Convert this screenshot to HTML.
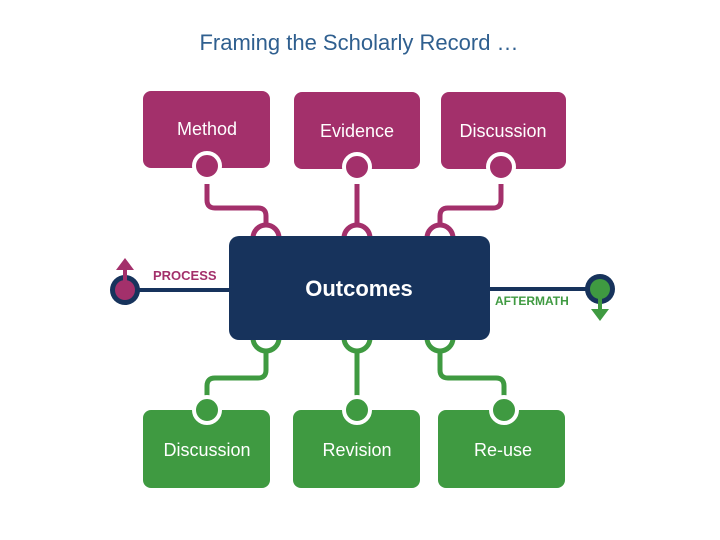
<!DOCTYPE html>
<html><head><meta charset="utf-8"><style>
html,body{margin:0;padding:0;background:#fff;width:720px;height:540px;overflow:hidden}
</style></head><body>
<svg width="720" height="540" viewBox="0 0 720 540" xmlns="http://www.w3.org/2000/svg" font-family="Liberation Sans, sans-serif">
<text x="359" y="50" text-anchor="middle" font-size="22" fill="#2f5f8f">Framing the Scholarly Record …</text>
<g fill="#a3306b">
<rect x="143" y="91" width="127" height="77" rx="8"/>
<rect x="294" y="92" width="126" height="77" rx="8"/>
<rect x="441" y="92" width="125" height="77" rx="8"/>
</g>
<g fill="#a3306b" stroke="#fff" stroke-width="4">
<circle cx="207" cy="166" r="13"/><circle cx="357" cy="167" r="13"/><circle cx="501" cy="167" r="13"/>
</g>
<g fill="none" stroke="#a3306b" stroke-width="5">
<path d="M207 184 V200 Q207 208 215 208 H258 Q266 208 266 216 V224"/>
<path d="M357 184 V224"/>
<path d="M501 184 V200 Q501 208 493 208 H448 Q440 208 440 216 V224"/>
<path d="M253 238 A13 13 0 0 1 279 238"/>
<path d="M344 238 A13 13 0 0 1 370 238"/>
<path d="M427 238 A13 13 0 0 1 453 238"/>
</g>
<g fill="#fff" font-size="18" text-anchor="middle">
<text x="207" y="135">Method</text><text x="357" y="137">Evidence</text><text x="503" y="137">Discussion</text>
</g>
<g fill="none" stroke="#3f9a41" stroke-width="5">
<path d="M253 338 A13 13 0 0 0 279 338"/>
<path d="M344 338 A13 13 0 0 0 370 338"/>
<path d="M427 338 A13 13 0 0 0 453 338"/>
<path d="M266 350 V370 Q266 378 258 378 H215 Q207 378 207 386 V398"/>
<path d="M357 350 V398"/>
<path d="M440 350 V370 Q440 378 448 378 H496 Q504 378 504 386 V398"/>
</g>
<line x1="125" y1="290" x2="232" y2="290" stroke="#17335c" stroke-width="4"/>
<line x1="488" y1="289" x2="600" y2="289" stroke="#17335c" stroke-width="4"/>
<rect x="229" y="236" width="261" height="104" rx="10" fill="#17335c"/>
<text x="359" y="296" text-anchor="middle" font-size="22" font-weight="bold" fill="#fff">Outcomes</text>
<circle cx="125" cy="290" r="15" fill="#17335c"/><circle cx="125" cy="290" r="10" fill="#a3306b"/>
<line x1="125" y1="290" x2="125" y2="266" stroke="#a3306b" stroke-width="4"/>
<path d="M116 270 L125 258 L134 270 Z" fill="#a3306b"/>
<text x="153" y="280" font-size="13" font-weight="bold" fill="#a3306b">PROCESS</text>
<circle cx="600" cy="289" r="15" fill="#17335c"/><circle cx="600" cy="289" r="10" fill="#3f9a41"/>
<line x1="600" y1="289" x2="600" y2="312" stroke="#3f9a41" stroke-width="4"/>
<path d="M591 309 L600 321 L609 309 Z" fill="#3f9a41"/>
<text x="495" y="305" font-size="12" font-weight="bold" fill="#3f9a41">AFTERMATH</text>
<g fill="#3f9a41">
<rect x="143" y="410" width="127" height="78" rx="8"/>
<rect x="293" y="410" width="127" height="78" rx="8"/>
<rect x="438" y="410" width="127" height="78" rx="8"/>
</g>
<g fill="#3f9a41" stroke="#fff" stroke-width="4">
<circle cx="207" cy="410" r="13"/><circle cx="357" cy="410" r="13"/><circle cx="504" cy="410" r="13"/>
</g>
<g fill="#fff" font-size="18" text-anchor="middle">
<text x="207" y="456">Discussion</text><text x="357" y="456">Revision</text><text x="503" y="456">Re-use</text>
</g>
</svg>
</body></html>
